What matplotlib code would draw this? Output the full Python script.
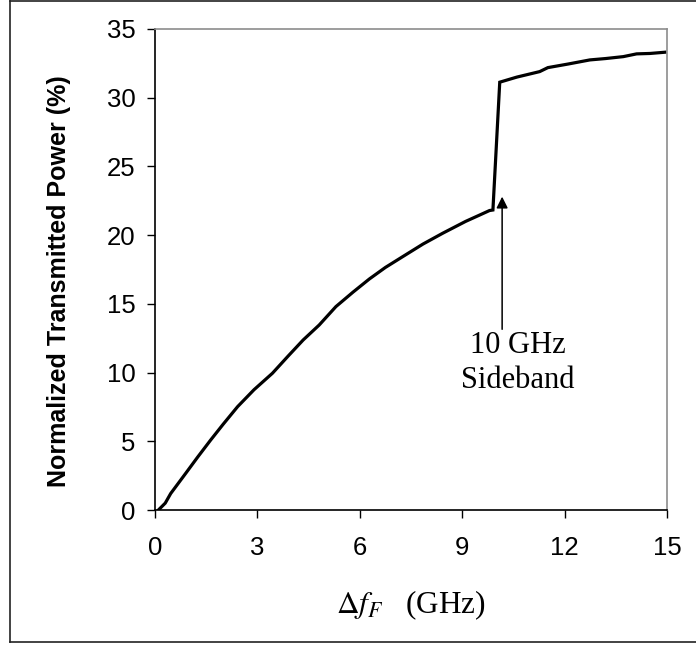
import matplotlib
matplotlib.use("Agg")
import matplotlib.pyplot as plt
from matplotlib.lines import Line2D

# transmitted power vs. frequency offset (GHz, %)
freq = [0.1, 0.3, 0.46, 0.9, 1.25, 1.63, 2.0, 2.42, 2.9, 3.44, 3.9, 4.34,
        4.81, 5.3, 5.8, 6.28, 6.75, 7.26, 7.85, 8.43, 9.1, 9.5, 9.8, 9.9,
        10.1, 10.6, 11.27, 11.51, 12.1, 12.74, 13.2, 13.72, 14.11, 14.5, 14.94]
power = [0.0, 0.5, 1.2, 2.67, 3.85, 5.09, 6.25, 7.52, 8.75, 9.95, 11.2, 12.37,
         13.46, 14.8, 15.85, 16.81, 17.65, 18.44, 19.35, 20.14, 21.0, 21.45, 21.79, 21.83,
         31.13, 31.5, 31.9, 32.19, 32.45, 32.75, 32.85, 32.99, 33.19, 33.22, 33.31]

xticks = [0, 3, 6, 9, 12, 15]
yticks = [0, 5, 10, 15, 20, 25, 30, 35]

sideband_x = 10.17
sideband_tip = 22.8
sideband_tail = 13.15

plt.rcParams["mathtext.fontset"] = "stix"

fig = plt.figure(figsize=(6.96, 6.46), dpi=100)
ax = fig.add_axes([155 / 696, 136 / 646, 512 / 696, 481 / 646])

ax.plot(freq, power, color="black", lw=2.3, solid_joinstyle="miter")

ax.set_xlim(0, 15)
ax.set_ylim(0, 35)
ax.set_xticks(xticks)
ax.set_yticks(yticks)
ax.tick_params(direction="out", length=6, width=1, labelsize=18.5,
               labelfontfamily="Liberation Sans")
ax.tick_params(axis="x", pad=13)
ax.tick_params(axis="y", pad=8)

for side in ["top", "right"]:
    ax.spines[side].set_color("#8c8c8c")
    ax.spines[side].set_linewidth(1.2)
for side in ["left", "bottom"]:
    ax.spines[side].set_linewidth(1.2)

ax.set_xlabel(r"$\Delta f_{F}$   (GHz)", family="Liberation Serif",
              fontsize=22.5, va="center")
ax.xaxis.set_label_coords(0.5, -0.197)
ax.set_ylabel("Normalized Transmitted Power (%)", family="Liberation Sans",
              fontsize=18, fontweight="bold", va="center")
ax.yaxis.set_label_coords(-0.188, 0.476)

# sideband marker: vertical arrow and two-line caption
ax.annotate("", xy=(sideband_x, sideband_tip), xytext=(sideband_x, sideband_tail),
            arrowprops=dict(arrowstyle="-|>", color="black", lw=1.1,
                            mutation_scale=17, shrinkA=0, shrinkB=0))
ax.text(10.62, 10.7, "10 GHz\nSideband", ha="center", va="center",
        family="Liberation Serif", fontsize=22, linespacing=1.25)

# outer frame lines
frame = dict(transform=fig.transFigure, color="#222222", lw=1.2)
fig.add_artist(Line2D([10 / 696, 10 / 696], [4 / 646, 645 / 646], **frame))
fig.add_artist(Line2D([10 / 696, 1], [645 / 646, 645 / 646], **frame))
fig.add_artist(Line2D([10 / 696, 1], [4 / 646, 4 / 646], **frame))

fig.savefig("out.png", dpi=100)
